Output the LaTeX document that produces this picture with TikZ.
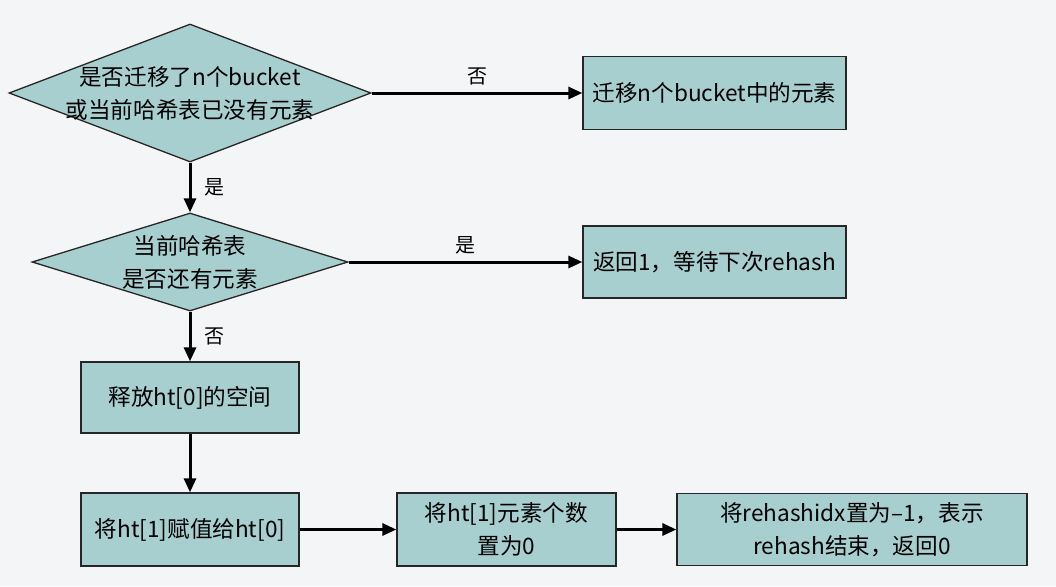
\documentclass[tikz,border=0pt]{standalone}
\usepackage{fontspec}
\setmainfont{Noto Sans CJK SC}
\usetikzlibrary{shapes.geometric,arrows.meta}
\definecolor{bgcol}{HTML}{F4F5F7}
\definecolor{boxcol}{HTML}{A8CFD0}
\tikzset{box/.style={draw=black!85, fill=boxcol, line width=1.3pt, align=center, inner sep=0pt, font=\fontsize{22.6}{33}\selectfont}, decision/.style={diamond, draw=black!85, fill=boxcol, line width=1.3pt, inner sep=0pt}, flow/.style={line width=3pt, -{Triangle[length=14pt,width=12pt]}}, answer/.style={inner sep=2pt, font=\fontsize{20}{24}\selectfont}}

\begin{document}
\begin{tikzpicture}[x=1pt,y=-1pt]
   \fill[bgcol] (0,0) rectangle (1056,586);
   \node[decision, minimum width=362pt, minimum height=138pt] (moved) at (190,93) {};
   \node[box, draw=none, fill=none] (movedtext) at (moved) {是否迁移了n个bucket\\或当前哈希表已没有元素};
   \node[box, minimum width=263pt, minimum height=73pt] (migrate) at (714.5,93) {迁移n个bucket中的元素};
   \node[decision, minimum width=316pt, minimum height=98pt] (left) at (190,262) {};
   \node[box, draw=none, fill=none] (lefttext) at (left) {当前哈希表\\是否还有元素};
   \node[box, minimum width=263pt, minimum height=72pt] (wait) at (714.5,262) {返回1，等待下次rehash};
   \node[box, minimum width=218pt, minimum height=71pt] (free) at (190,397.5) {释放ht[0]的空间};
   \node[box, minimum width=218pt, minimum height=73pt] (assign) at (190,529.5) {将ht[1]赋值给ht[0]};
   \node[box, minimum width=219pt, minimum height=73pt] (reset) at (506.5,529.5) {将ht[1]元素个数\\置为0};
   \node[box, minimum width=350pt, minimum height=72pt] (done) at (852,529.5) {将rehashidx置为–1，表示\\rehash结束，返回0};
   \draw[flow] (moved) -- node[answer, above=4pt] {否} (migrate);
   \draw[flow] (moved) -- node[answer, right=11pt] {是} (left);
   \draw[flow] (left) -- node[answer, above=4pt] {是} (wait);
   \draw[flow] (left) -- node[answer, right=11pt] {否} (free);
   \draw[flow] (free) -- (assign);
   \draw[flow] (assign) -- (reset);
   \draw[flow] (reset) -- (done);
\end{tikzpicture}
\end{document}
